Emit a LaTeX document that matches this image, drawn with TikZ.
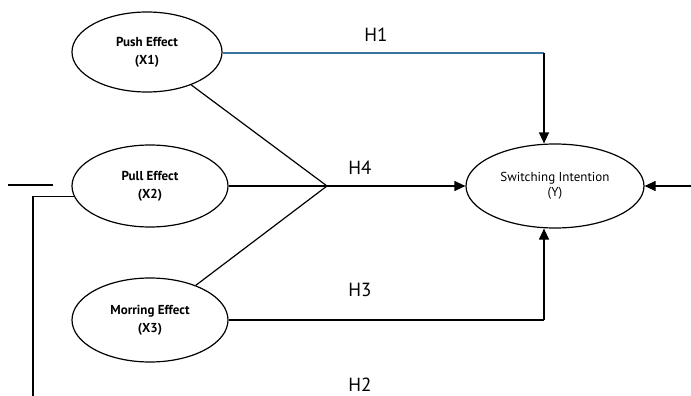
\documentclass[tikz,border=0pt]{standalone}
\usepackage{fontspec}
\setmainfont{PT Sans}
\usetikzlibrary{shapes.geometric,arrows.meta}
\definecolor{hblue}{RGB}{55,115,155}
\tikzset{
  var/.style={draw, ellipse, line width=1.2pt, inner sep=0pt, align=center, font=\fontsize{13}{18}\selectfont\bfseries},
  conn/.style={line width=1.2pt},
  arr/.style={conn, -{Triangle[length=11pt,width=10pt]}},
  hlab/.style={font=\fontsize{19}{21}\selectfont}
}
\begin{document}
\begin{tikzpicture}[x=1pt,y=-1pt]
\useasboundingbox (0,0) rectangle (691,396);
\node[var, minimum width=150pt, minimum height=80pt] (push) at (147,52) {Push Effect\\(X1)};
\node[var, minimum width=156pt, minimum height=82pt] (pull) at (150,186) {Pull Effect\\(X2)};
\node[var, minimum width=156pt, minimum height=84pt] (mor) at (150,320) {Morring Effect\\(X3)};
\node[var, minimum width=178pt, minimum height=84pt, font=\fontsize{13}{15}\selectfont] (y) at (555,186) {Switching Intention\\(Y)};
\coordinate (hub) at (327,186);
\coordinate (c1) at (544,53);
\coordinate (c3) at (544,320);
\coordinate (r) at (691,186);
\coordinate (l1) at (8,185);
\coordinate (l2) at (53,185);
\coordinate (k) at (33,197);
\coordinate (lb) at (33,396);
\draw[conn] (push) -- (hub);
\draw[conn] (pull.east) -- (hub);
\draw[conn] (mor) -- (hub);
\draw[arr] (hub) -- (y.west);
\draw[conn, hblue] (push.east |- c1) -- (c1);
\draw[arr] (c1) -- (c1 |- y.north);
\draw[conn] (mor.east) -- (c3);
\draw[arr] (c3) -- (c3 |- y.south);
\draw[arr] (r) -- (y.east);
\draw[conn] (l1) -- (l2);
\draw[conn] (pull.188) -- (pull.188 -| k) -- (lb);
\node[hlab] (h1) at (376,35) {H1};
\node[hlab] (h4) at (360,168) {H4};
\node[hlab] (h3) at (360,290) {H3};
\node[hlab] (h2) at (360,385) {H2};
\end{tikzpicture}
\end{document}
